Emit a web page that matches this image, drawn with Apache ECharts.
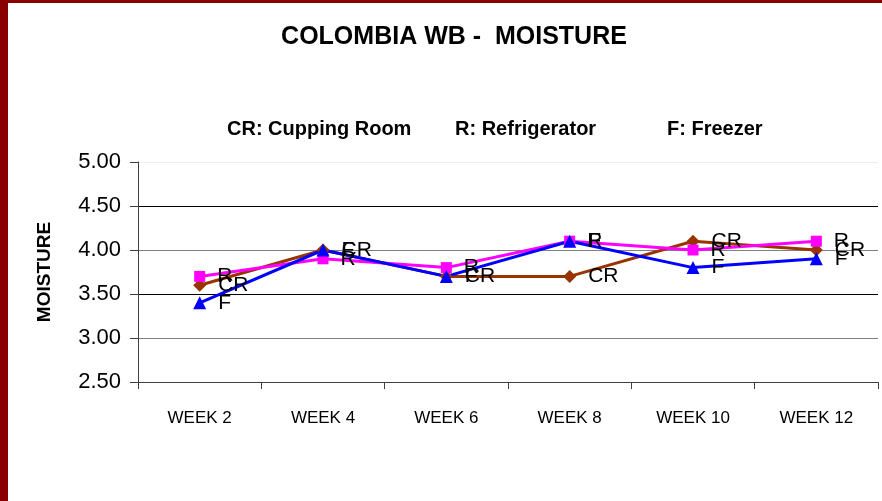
<!DOCTYPE html>
<html><head><meta charset="utf-8">
<script src="https://cdn.jsdelivr.net/npm/echarts@6/dist/echarts.min.js"></script>
<style>html,body{margin:0;padding:0;background:#fff}#c{width:882px;height:501px}</style>
</head><body><div id="c"></div>
<script>
var categories = ['WEEK 2','WEEK 4','WEEK 6','WEEK 8','WEEK 10','WEEK 12'];
var crValues = [3.6, 4.0, 3.7, 3.7, 4.1, 4.0];
var rValues  = [3.7, 3.9, 3.8, 4.1, 4.0, 4.1];
var fValues  = [3.4, 4.0, 3.7, 4.1, 3.8, 3.9];
var seriesNames = ['CR','R','F'];
var legendTexts = ['CR: Cupping Room', 'R: Refrigerator', 'F: Freezer'];

var font = 'Arial, "Liberation Sans", sans-serif';
function mk(name, data, color, symbol, size) {
  return {
    name: name, type: 'line', data: data,
    symbol: symbol, symbolSize: size, showAllSymbol: true,
    lineStyle: {color: color, width: 3},
    itemStyle: {color: color},
    label: {show: true, position: 'right', distance: 12, formatter: name,
            color: '#000', fontFamily: font, fontSize: 21},
    animation: false
  };
}
var subStyle = {fontFamily: font, fontWeight: 'bold', fontSize: 20, color: '#000'};
var chart = echarts.init(document.getElementById('c'), null, {renderer: 'canvas'});
chart.setOption({
  animation: false,
  backgroundColor: '#fff',
  title: [
    {text: 'COLOMBIA WB -  MOISTURE', left: 449, top: 20, textAlign: 'center',
     textStyle: {fontFamily: font, fontWeight: 'bold', fontSize: 25, color: '#000'}},
    {text: legendTexts[0], left: 222, top: 114, textStyle: subStyle},
    {text: legendTexts[1], left: 450, top: 114, textStyle: subStyle},
    {text: legendTexts[2], left: 662, top: 114, textStyle: subStyle}
  ],
  graphic: [
    {type: 'rect', left: 0, top: 0, shape: {width: 8, height: 501}, style: {fill: '#8a0000'}, z: 100},
    {type: 'rect', left: 0, top: 0, shape: {width: 882, height: 3}, style: {fill: '#8a0000'}, z: 100}
  ],
  grid: {left: 138, right: 4, top: 162, bottom: 119, containLabel: false},
  xAxis: {
    type: 'category', data: categories, boundaryGap: true,
    axisLine: {lineStyle: {color: '#404040', width: 1}},
    axisTick: {show: true, length: 7, lineStyle: {color: '#404040'}},
    axisLabel: {fontFamily: font, fontSize: 17, color: '#000', margin: 28}
  },
  yAxis: {
    type: 'value', min: 2.5, max: 5.0, interval: 0.5,
    name: 'MOISTURE', nameLocation: 'middle', nameGap: 84, nameRotate: 90,
    nameTextStyle: {fontFamily: font, fontWeight: 'bold', fontSize: 19, color: '#000'},
    axisLine: {show: true, lineStyle: {color: '#404040', width: 1}},
    axisTick: {show: true, inside: false, length: 8, lineStyle: {color: '#404040'}},
    axisLabel: {fontFamily: font, fontSize: 22, color: '#000', margin: 17,
                formatter: function(v){return v.toFixed(2);}},
    splitLine: {show: true, lineStyle: {color: ['#000', '#808080', '#000', '#808080', '#000', '#eeeeee'], width: 1}}
  },
  series: [
    mk(seriesNames[0], crValues, '#993300', 'diamond', 13),
    mk(seriesNames[1], rValues, '#ff00ff', 'rect', 11),
    mk(seriesNames[2], fValues, '#0000ff', 'triangle', 13)
  ]
});
</script></body></html>
